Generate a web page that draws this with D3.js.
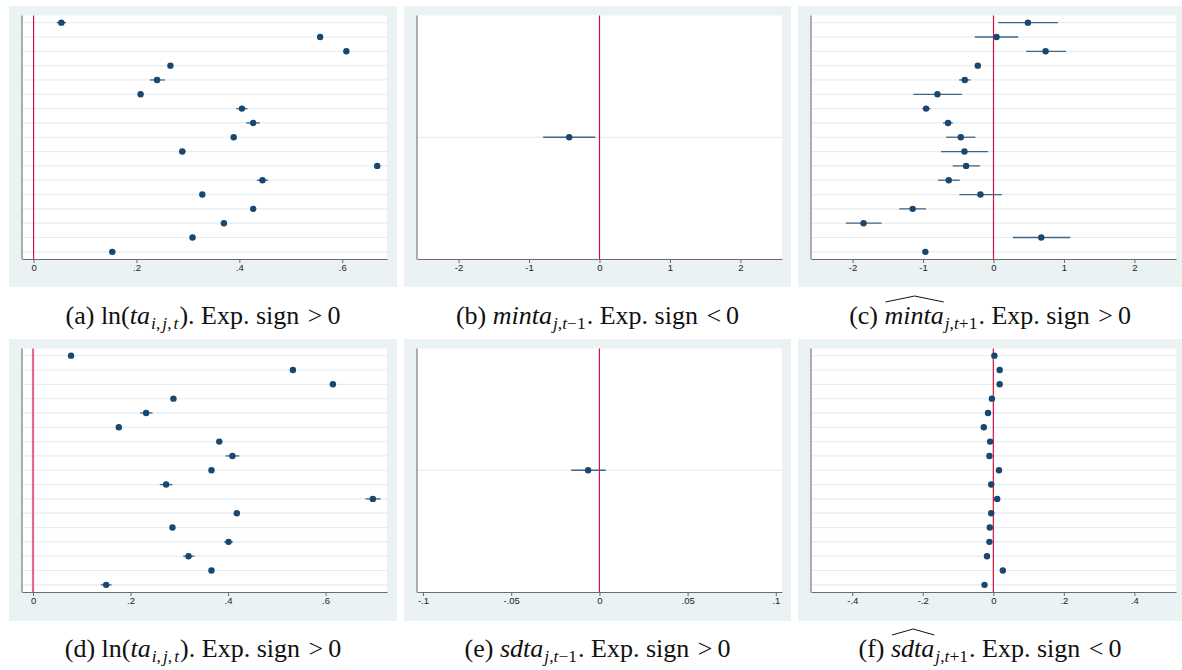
<!DOCTYPE html>
<html>
<head>
<meta charset="utf-8">
<script src="https://cdn.jsdelivr.net/npm/d3@7"></script>
<style>
  html, body { margin: 0; padding: 0; background: #ffffff; }
  svg { display: block; }
</style>
</head>
<body>
<svg id="chart" width="1182" height="670"></svg>
<script>
// ---------------- DATA ----------------
const rowLabels = ["r1","r2","r3","r4","r5","r6","r7","r8","r9","r10","r11","r12","r13","r14","r15","r16","r17"];
const singleRow = ["r1"];

// (a) ln(ta_{i,j,t})
const aCoef = [0.054, 0.557, 0.608, 0.266, 0.240, 0.208, 0.405, 0.427, 0.389, 0.289, 0.668, 0.445, 0.328, 0.427, 0.370, 0.309, 0.153];
const aLo   = [0.045, 0.554, 0.605, 0.263, 0.226, 0.205, 0.394, 0.413, 0.386, 0.283, 0.665, 0.434, 0.325, 0.424, 0.367, 0.306, 0.147];
const aHi   = [0.063, 0.560, 0.611, 0.269, 0.255, 0.211, 0.416, 0.440, 0.392, 0.296, 0.671, 0.456, 0.331, 0.430, 0.373, 0.312, 0.159];

// (b) minta_{j,t-1}
const bCoef = [-0.43];
const bLo   = [-0.80];
const bHi   = [-0.06];

// (c) hat minta_{j,t+1}
const cCoef = [0.488, 0.043, 0.739, -0.223, -0.408, -0.796, -0.957, -0.645, -0.464, -0.412, -0.389, -0.635, -0.185, -1.147, -1.844, 0.678, -0.967];
const cLo   = [0.066, -0.265, 0.464, -0.240, -0.488, -1.137, -1.009, -0.716, -0.673, -0.744, -0.578, -0.787, -0.483, -1.336, -2.095, 0.275, -0.985];
const cHi   = [0.915, 0.351, 1.028, -0.206, -0.327, -0.450, -0.896, -0.578, -0.256, -0.076, -0.194, -0.479, 0.118, -0.957, -1.588, 1.090, -0.949];

// (d) ln(ta_{i,j,t})
const dCoef = [0.078, 0.533, 0.615, 0.288, 0.232, 0.176, 0.382, 0.409, 0.366, 0.273, 0.697, 0.418, 0.286, 0.401, 0.319, 0.366, 0.150];
const dLo   = [0.075, 0.530, 0.612, 0.285, 0.220, 0.173, 0.379, 0.395, 0.363, 0.260, 0.682, 0.412, 0.283, 0.392, 0.308, 0.363, 0.139];
const dHi   = [0.081, 0.536, 0.618, 0.291, 0.245, 0.179, 0.385, 0.423, 0.369, 0.286, 0.713, 0.424, 0.289, 0.410, 0.331, 0.369, 0.161];

// (e) sdta_{j,t-1}
const eCoef = [-0.0064];
const eLo   = [-0.0160];
const eHi   = [0.0036];

// (f) hat sdta_{j,t+1}
const fCoef = [0.003, 0.018, 0.018, -0.004, -0.015, -0.027, -0.009, -0.011, 0.016, -0.006, 0.011, -0.006, -0.010, -0.011, -0.018, 0.027, -0.025];
const fLo   = [0.001, 0.016, 0.016, -0.006, -0.017, -0.029, -0.011, -0.013, 0.014, -0.008, 0.009, -0.008, -0.012, -0.013, -0.020, 0.025, -0.027];
const fHi   = [0.005, 0.020, 0.020, -0.002, -0.013, -0.025, -0.007, -0.009, 0.018, -0.004, 0.013, -0.004, -0.008, -0.009, -0.016, 0.029, -0.023];

// tick values and labels
const ticksLnTa   = [0, 0.2, 0.4, 0.6];
const labelsLnTa  = ["0", ".2", ".4", ".6"];
const ticksMinta  = [-2, -1, 0, 1, 2];
const labelsMinta = ["-2", "-1", "0", "1", "2"];
const ticksSdtaL  = [-0.1, -0.05, 0, 0.05, 0.1];
const labelsSdtaL = ["-.1", "-.05", "0", ".05", ".1"];
const ticksSdtaF  = [-0.4, -0.2, 0, 0.2, 0.4];
const labelsSdtaF = ["-.4", "-.2", "0", ".2", ".4"];

// x-axis domains
const domainA = [-0.0225, 0.687];
const domainB = [-2.59, 2.59];
const domainC = [-2.59, 2.59];
const domainD = [-0.0226, 0.726];
const domainE = [-0.1034, 0.1035];
const domainF = [-0.517, 0.518];

// ---------------- LAYOUT ----------------
const svg = d3.select("#chart");
const BG = "#eaf2f3";
const DOT = "#1a476f";
const CI = "#3f6688";
const RED = "#d1123f";

const cols = [
  {bx0: 9,   bx1: 397,  px0: 22,  px1: 387, cx: 203},
  {bx0: 404, bx1: 791,  px0: 417, px1: 782, cx: 597.5},
  {bx0: 798, bx1: 1182, px0: 811, px1: 1176, cx: 990}
];
const rowsGeo = [
  {by0: 6,   by1: 287, py0: 15.5, py1: 259, capY: 324},
  {by0: 339, by1: 621, py0: 348.5, py1: 592, capY: 657}
];

const panels = [
  {col: 0, row: 0, cats: rowLabels, coef: aCoef, lo: aLo, hi: aHi, domain: domainA, ticks: ticksLnTa, labels: labelsLnTa, kind: "a"},
  {col: 1, row: 0, cats: singleRow, coef: bCoef, lo: bLo, hi: bHi, domain: domainB, ticks: ticksMinta, labels: labelsMinta, kind: "b"},
  {col: 2, row: 0, cats: rowLabels, coef: cCoef, lo: cLo, hi: cHi, domain: domainC, ticks: ticksMinta, labels: labelsMinta, kind: "c"},
  {col: 0, row: 1, cats: rowLabels, coef: dCoef, lo: dLo, hi: dHi, domain: domainD, ticks: ticksLnTa, labels: labelsLnTa, kind: "d", pinkLine: true},
  {col: 1, row: 1, cats: singleRow, coef: eCoef, lo: eLo, hi: eHi, domain: domainE, ticks: ticksSdtaL, labels: labelsSdtaL, kind: "e"},
  {col: 2, row: 1, cats: rowLabels, coef: fCoef, lo: fLo, hi: fHi, domain: domainF, ticks: ticksSdtaF, labels: labelsSdtaF, kind: "f"}
];

panels.forEach(p => {
  const c = cols[p.col], r = rowsGeo[p.row];
  const g = svg.append("g");
  g.append("rect").attr("x", c.bx0).attr("y", r.by0)
    .attr("width", c.bx1 - c.bx0).attr("height", r.by1 - r.by0).attr("fill", BG);
  g.append("rect").attr("x", c.px0).attr("y", r.py0)
    .attr("width", c.px1 - c.px0).attr("height", r.py1 - r.py0).attr("fill", "#ffffff");

  const x = d3.scaleLinear().domain(p.domain).range([c.px0, c.px1]);
  const y = d3.scalePoint().domain(p.cats).range([r.py0, r.py1]).padding(0.5);

  // gridlines
  g.append("g").selectAll("line").data(p.cats).join("line")
    .attr("x1", c.px0).attr("x2", c.px1)
    .attr("y1", d => y(d)).attr("y2", d => y(d))
    .attr("stroke", p.cats.length === 1 ? "#dfeaee" : "#e6eef1").attr("stroke-width", 1.2);

  // zero reference line
  g.append("line").attr("x1", x(0)).attr("x2", x(0))
    .attr("y1", r.py0).attr("y2", r.py1)
    .attr("stroke", p.pinkLine ? "#e46a8c" : RED)
    .attr("stroke-width", p.pinkLine ? 2.2 : 1.2);

  // x axis
  const axis = d3.axisBottom(x).tickValues(p.ticks)
    .tickFormat((d, i) => p.labels[i]).tickSize(4).tickSizeOuter(0);
  const ax = g.append("g").attr("transform", `translate(0,${r.py1})`).call(axis);
  ax.select(".domain").attr("stroke", "#6b6b6b").attr("stroke-width", 1);
  ax.selectAll(".tick line").attr("stroke", "#6b6b6b");
  ax.selectAll(".tick text").attr("font-family", "'Liberation Sans', Arial, sans-serif")
    .attr("font-size", 9.5).attr("fill", "#222").attr("dy", "0.55em");

  // left axis line
  g.append("line").attr("x1", c.px0).attr("x2", c.px0)
    .attr("y1", r.py0).attr("y2", r.py1 + 0.5)
    .attr("stroke", "#9a9a9a").attr("stroke-width", 1.6);

  // CIs and points
  const data = p.cats.map((k, i) => ({k, coef: p.coef[i], lo: p.lo[i], hi: p.hi[i]}));
  g.append("g").selectAll("line").data(data).join("line")
    .attr("x1", d => x(d.lo)).attr("x2", d => x(d.hi))
    .attr("y1", d => y(d.k)).attr("y2", d => y(d.k))
    .attr("stroke", CI).attr("stroke-width", 1.3);
  g.append("g").selectAll("circle").data(data).join("circle")
    .attr("cx", d => x(d.coef)).attr("cy", d => y(d.k)).attr("r", 3.2)
    .attr("fill", DOT);

  // caption
  drawCaption(p.kind, c.cx, r.capY);
});

function drawCaption(kind, cx, by) {
  const FS = 26, SFS = 17.5, SH = 5;
  const t = svg.append("text").attr("x", cx).attr("y", by)
    .attr("text-anchor", "middle")
    .attr("font-family", "'Liberation Serif', 'Times New Roman', serif")
    .attr("font-size", FS).attr("fill", "#111");
  const sub = (parts) => {
    let first = true;
    parts.forEach(([s, it, dx]) => {
      const ts = t.append("tspan").text(s).attr("font-size", SFS)
        .attr("font-style", it ? "italic" : "normal");
      if (dx) ts.attr("dx", dx);
      if (first) { ts.attr("dy", SH).attr("dx", 1); first = false; }
    });
  };
  const tail = (rel, lead) => {
    if (lead) t.append("tspan").text(lead).attr("dy", -SH).attr("dx", 1);
    const e = t.append("tspan").text(". Exp. sign ");
    if (!lead) e.attr("dy", -SH).attr("dx", 1);
    t.append("tspan").text(rel).attr("dx", 2);
    t.append("tspan").text("0").attr("dx", 5);
  };
  let hatNode = null;
  if (kind === "a" || kind === "d") {
    t.append("tspan").text(`(${kind}) ln(`);
    t.append("tspan").text("ta").attr("font-style", "italic");
    sub([["i", true], [",", false], ["j", true, 2], [",", false], ["t", true, 2]]);
    tail(">", ")");
  } else if (kind === "b" || kind === "c") {
    t.append("tspan").text(`(${kind}) `);
    const m = t.append("tspan").text("minta").attr("font-style", "italic");
    if (kind === "c") hatNode = m.node();
    if (kind === "b") sub([["j", true], [",", false], ["t", true], ["\u22121", false]]);
    else sub([["j", true], [",", false], ["t", true], ["+1", false]]);
    tail(kind === "b" ? "<" : ">");
  } else {
    t.append("tspan").text(`(${kind}) `);
    const m = t.append("tspan").text("sdta").attr("font-style", "italic");
    if (kind === "f") hatNode = m.node();
    if (kind === "e") sub([["j", true], [",", false], ["t", true], ["\u22121", false]]);
    else sub([["j", true], [",", false], ["t", true], ["+1", false]]);
    tail(kind === "e" ? ">" : "<");
  }
  if (hatNode) {
    const n = hatNode.getNumberOfChars();
    const x0 = hatNode.getStartPositionOfChar(0).x + 1;
    const x1 = hatNode.getEndPositionOfChar(n - 1).x;
    const path = d3.path();
    path.moveTo(x0, by - 22);
    path.lineTo((x0 + x1) / 2, by - 28);
    path.lineTo(x1, by - 22);
    svg.append("path").attr("d", path.toString()).attr("fill", "none")
      .attr("stroke", "#111").attr("stroke-width", 1);
  }
}
</script>
</body>
</html>
